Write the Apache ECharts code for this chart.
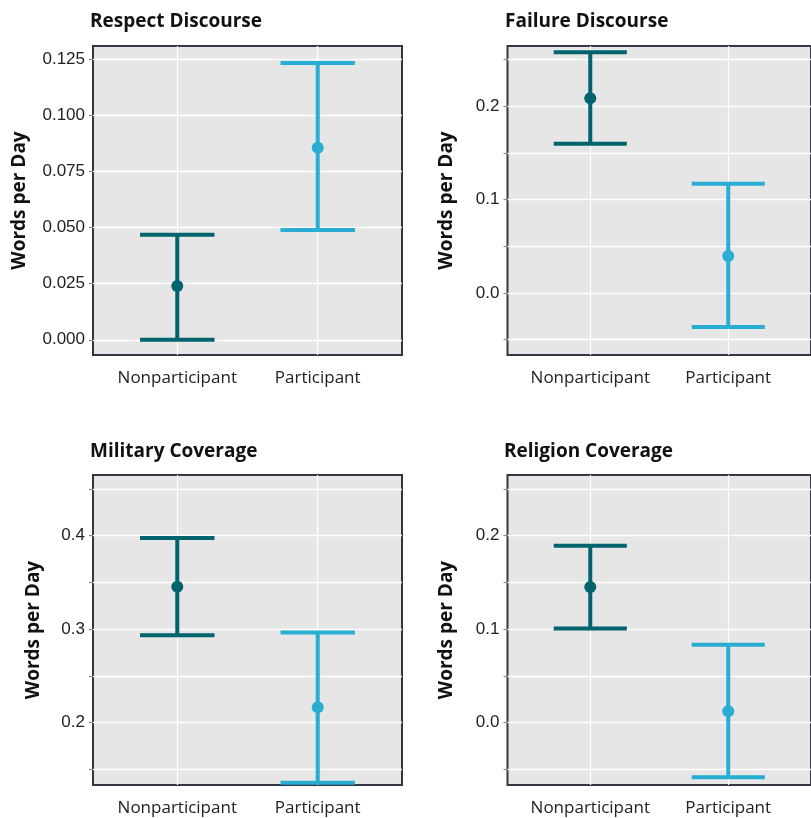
<!DOCTYPE html>
<html>
<head>
<meta charset="utf-8">
<script src="https://cdn.jsdelivr.net/npm/echarts@6/dist/echarts.min.js"></script>
<style>html,body{margin:0;padding:0;background:#fff}#c{width:811px;height:818px}</style>
</head>
<body>
<div id="c"></div>
<script>
// ---- data ----
const categories = ['Nonparticipant', 'Participant'];
const colors = ['#00636E', '#29ADD3'];

const respectMean = [0.024, 0.0857];
const respectLow = [0.0, 0.049];
const respectHigh = [0.0469, 0.1235];

const failureMean = [0.2086, 0.0396];
const failureLow = [0.160, -0.0364];
const failureHigh = [0.258, 0.117];

const militaryMean = [0.3454, 0.2165];
const militaryLow = [0.2936, 0.1356];
const militaryHigh = [0.3975, 0.2964];

const religionMean = [0.1451, 0.0122];
const religionLow = [0.1006, -0.0586];
const religionHigh = [0.1893, 0.0832];

const respectTicks = [0, 0.025, 0.05, 0.075, 0.1, 0.125];
const respectLabels = [0, 0.025, 0.05, 0.075, 0.1, 0.125];
const failureTicks = [-0.05, 0, 0.05, 0.1, 0.15, 0.2, 0.25];
const failureLabels = [0, 0.1, 0.2];
const militaryTicks = [0.15, 0.2, 0.25, 0.3, 0.35, 0.4, 0.45];
const militaryLabels = [0.2, 0.3, 0.4];
const religionTicks = [-0.05, 0, 0.05, 0.1, 0.15, 0.2, 0.25];
const religionLabels = [0, 0.1, 0.2];

const titles = ['Respect Discourse', 'Failure Discourse', 'Military Coverage', 'Religion Coverage'];
const yName = 'Words per Day';

// ---- layout ----
const panels = [
  {title: titles[0], mean: respectMean, low: respectLow, high: respectHigh, ticks: respectTicks, labels: respectLabels, dec: 3,
   min: -0.0068, max: 0.1311, left: 93, top: 46, h: 309, tx: 90, ty: 12, gap: 64},
  {title: titles[1], mean: failureMean, low: failureLow, high: failureHigh, ticks: failureTicks, labels: failureLabels, dec: 1,
   min: -0.0664, max: 0.2647, left: 507.5, top: 46, h: 309, tx: 505, ty: 12, gap: 51},
  {title: titles[2], mean: militaryMean, low: militaryLow, high: militaryHigh, ticks: militaryTicks, labels: militaryLabels, dec: 1,
   min: 0.1332, max: 0.465, left: 93, top: 475, h: 310, tx: 90, ty: 442, gap: 50},
  {title: titles[3], mean: religionMean, low: religionLow, high: religionHigh, ticks: religionTicks, labels: religionLabels, dec: 1,
   min: -0.0668, max: 0.265, left: 507.5, top: 475, h: 310, tx: 504, ty: 442, gap: 51}
];

const chart = echarts.init(document.getElementById('c'), null, {renderer: 'canvas'});

function renderErrorBar(params, api) {
  const x = api.value(0), m = api.value(1), lo = api.value(2), hi = api.value(3);
  const color = colors[api.value(4)];
  const pHi = api.coord([x, hi]);
  const pLo = api.coord([x, lo]);
  const pM = api.coord([x, m]);
  const half = api.size([0.265, 0])[0];
  const st = {stroke: color, lineWidth: 4, lineCap: 'butt'};
  return {
    type: 'group',
    children: [
      {type: 'line', shape: {x1: pHi[0], y1: pHi[1], x2: pLo[0], y2: pLo[1]}, style: st},
      {type: 'line', shape: {x1: pHi[0] - half, y1: pHi[1], x2: pHi[0] + half, y2: pHi[1]}, style: st},
      {type: 'line', shape: {x1: pLo[0] - half, y1: pLo[1], x2: pLo[0] + half, y2: pLo[1]}, style: st},
      {type: 'circle', shape: {cx: pM[0], cy: pM[1], r: 6}, style: {fill: color}}
    ]
  };
}

const option = {
  animation: false,
  backgroundColor: '#ffffff',
  title: [], grid: [], xAxis: [], yAxis: [], series: []
};

panels.forEach((p, i) => {
  option.title.push({
    text: p.title, left: p.tx, top: p.ty, padding: 0,
    textStyle: {fontFamily: 'Open Sans', fontWeight: 'bold', fontSize: 19, color: '#111'}
  });
  option.grid.push({
    left: p.left, top: p.top, width: 309, height: p.h,
    show: true, backgroundColor: '#E6E6E6', borderColor: '#353545', borderWidth: 2, z: 0
  });
  option.xAxis.push({
    type: 'value', gridIndex: i, min: 0.4, max: 2.6,
    axisLine: {show: false},
    axisTick: {show: false, customValues: [1, 2]},
    axisLabel: {
      customValues: [1, 2], margin: 15,
      formatter: v => categories[Math.round(v) - 1],
      fontFamily: 'Open Sans', fontSize: 17, color: '#222'
    },
    splitLine: {show: true, lineStyle: {color: '#ffffff', width: 1.3}}
  });
  option.yAxis.push({
    type: 'value', gridIndex: i, min: p.min, max: p.max,
    name: yName, nameLocation: 'middle', nameGap: p.gap, nameRotate: 90,
    nameTextStyle: {fontFamily: 'Open Sans', fontWeight: 'bold', fontSize: 19, color: '#111'},
    axisLine: {show: false},
    axisTick: {show: true, length: 4, customValues: p.ticks, lineStyle: {color: '#8a8a8a', width: 1.2}},
    axisLabel: {
      customValues: p.labels, margin: 8,
      formatter: v => v.toFixed(p.dec),
      fontFamily: 'Liberation Sans', fontSize: 17, color: '#222'
    },
    splitLine: {show: true, lineStyle: {color: '#ffffff', width: 1.3}}
  });
  option.series.push({
    type: 'custom', xAxisIndex: i, yAxisIndex: i,
    renderItem: renderErrorBar,
    encode: {x: 0, y: [1, 2, 3]},
    clip: false,
    data: categories.map((c, k) => [k + 1, p.mean[k], p.low[k], p.high[k], k])
  });
});

chart.setOption(option);
</script>
</body>
</html>
